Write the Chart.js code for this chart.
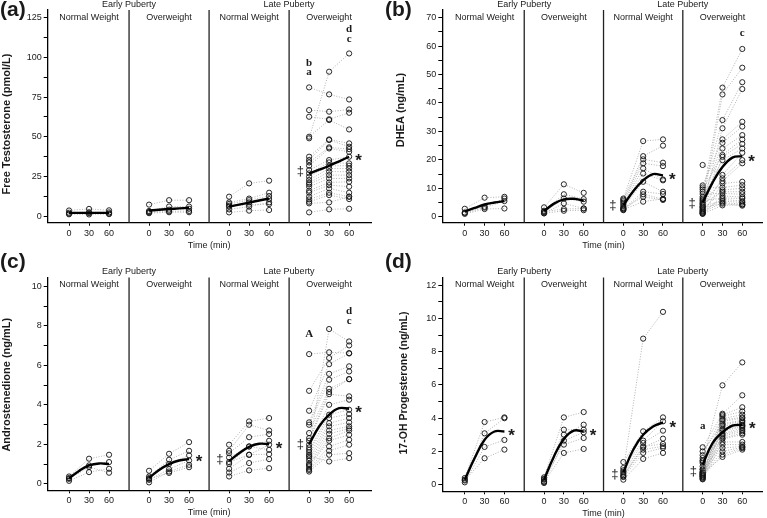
<!DOCTYPE html>
<html>
<head>
<meta charset="utf-8">
<script src="https://cdn.jsdelivr.net/npm/chart.js@4.4.0/dist/chart.umd.min.js"></script>
<style>
  body { margin: 0; background: #fff; }
  #wrap { position: relative; width: 767px; height: 518px; overflow: hidden; background: #fff; }
  canvas { position: absolute; }
</style>
</head>
<body>
<div id="wrap">
  <canvas id="pa" width="383" height="255" style="left:0;top:0"></canvas>
  <canvas id="pb" width="384" height="255" style="left:383px;top:0"></canvas>
  <canvas id="pc" width="383" height="268" style="left:0;top:250px"></canvas>
  <canvas id="pd" width="384" height="268" style="left:383px;top:250px"></canvas>
</div>
<script>
// shared layout of every panel: 4 sub-panels, sampled at 0/30/60 min
const OFF = 120;
const times = [0, 30, 60];
const fitTimes = [0, 15, 30, 45, 60];
const xTickLabels = ['0', '30', '60'];
const dividers = [90, 210, 330];
const groupNames = ['Normal Weight', 'Overweight', 'Normal Weight', 'Overweight'];
const stageNames = ['Early Puberty', 'Late Puberty'];
const stageAt = [90, 330];

// (a) Free testosterone, pmol/L  — one row per subject: [0, 30, 60 min]
const a_epnw = [[3.5, 4.5, 3.6], [2.1, 2.4, 2.3], [1.1, 1.0, 1.2], [1.5, 1.8, 1.6]];
const a_epow = [[7.2, 10, 10], [3.2, 6, 6], [2.6, 4, 4.6], [2.2, 3, 3.2], [1.8, 2.4, 2.4]];
const a_lpnw = [[12.2, 20.6, 22.3], [8.6, 11, 14.7], [7.6, 10, 12.6], [5.9, 8.6, 10.7], [4.2, 5.9, 8.6], [2.3, 3.4, 3.8], [6.5, 7.2, 7.5]];
const a_lpow = [[81.1, 76.7, 73.5], [66.8, 65.8, 67.2], [62.6, 61, 65.1], [49, 91, 102.5], [50, 60.5, 54.6],
  [37.4, 48.3, 45.8], [35.3, 47.9, 43.7], [33.8, 43.3, 42.2], [31.7, 42.6, 40.5], [29, 35.3, 37.4],
  [26.9, 33.8, 33.2], [24.8, 31.7, 31.7], [22.7, 30, 30], [21, 28, 28], [20, 25.8, 25.8], [18.5, 23.7, 23.7],
  [16, 21.2, 21.6], [14.7, 19.5, 18.5], [12.2, 17.4, 14.7], [10.5, 14.7, 12.2], [9, 13.2, 10.7], [8, 8.6, 12.2], [2.3, 4.2, 4.6]];
const a_fit = [[2, 2, 2, 2, 2], [3.5, 4, 4.4, 4.8, 5.2], [6, 7.2, 8.5, 9.8, 11], [26.8, 29.2, 31.7, 34.5, 37.4]];
const a_yTicks = [0, 25, 50, 75, 100, 125];

// (b) DHEA, ng/mL
const b_epnw = [[2.8, 6.7, 7.0], [1.5, 3.5, 6.4], [1.0, 2.7, 2.9], [1.3, 3.2, 5.5]];
const b_epow = [[3.3, 11.4, 8.4], [2.1, 7.9, 6.2], [1.6, 6.4, 5.3], [1.2, 4.7, 2.9], [1.8, 2.7, 2.9], [1.2, 2.1, 2.3]];
const b_lpnw = [[6.4, 26.6, 27.2], [6.0, 21.3, 25], [5.5, 20.2, 19], [5.0, 18.8, 17.8], [4.4, 17, 13.1], [3.8, 15.2, 12.8],
  [3.2, 12.3, 8.8], [2.7, 8.8, 8.0], [2.3, 7.9, 6.2], [3.0, 7.0, 5.9], [2.5, 5.3, 6.3]];
const b_lpow = [[7.0, 45.4, 59], [4.3, 43.0, 52.4], [8.8, 34.0, 47.3], [3.5, 31.1, 44.9], [11.0, 27.2, 33.4],
  [5.9, 26.0, 31.7], [2.6, 24.0, 28.7], [9.6, 21.7, 27.2], [1.8, 21.1, 25.6], [6.4, 19.9, 24.0], [18.2, 14.7, 22.5],
  [3.0, 13.5, 19.9], [5.0, 12.5, 18.8], [1.3, 11.7, 12.3], [10.3, 10.3, 11.1], [2.3, 9.4, 10.0], [4.6, 8.8, 8.8],
  [8.0, 8.2, 7.9], [1.1, 7.3, 6.9], [5.5, 6.6, 6.4], [2.0, 6.1, 5.5], [3.8, 5.5, 5.0], [1.5, 5.0, 4.4], [3.3, 4.6, 3.9], [1.0, 4.0, 4.2]];
const b_fit = [[1.8, 3.1, 4.3, 5.0, 5.5], [2.0, 4.6, 6.1, 6.3, 5.6], [4.0, 9.0, 12.8, 15.0, 14.5], [5.0, 12.0, 17.5, 20.8, 21.3]];
const b_yTicks = [0, 10, 20, 30, 40, 50, 60, 70];

// (c) Androstenedione, ng/mL
const c_epnw = [[0.37, 1.27, 1.47], [0.29, 0.93, 1.1], [0.15, 0.59, 0.76], [0.25, 0.85, 0.56]];
const c_epow = [[0.66, 1.52, 2.11], [0.37, 1.22, 1.67], [0.29, 1.01, 1.44], [0.2, 0.74, 1.18], [0.07, 0.62, 0.96], [0.25, 0.55, 0.84]];
const c_lpnw = [[1.98, 3.16, 3.33], [1.67, 2.99, 2.7], [1.55, 2.36, 2.52], [1.33, 1.89, 2.18], [1.1, 1.47, 1.98],
  [1.01, 1.89, 1.72], [0.76, 1.47, 1.5], [0.57, 1.05, 1.25], [0.37, 0.68, 0.79]];
const c_lpow = [[6.57, 6.66, 6.62], [1.84, 7.84, 7.21], [4.71, 6.37, 7.01], [3.7, 6.06, 6.6], [3.11, 5.57, 5.95],
  [2.99, 5.27, 5.69], [2.57, 4.81, 5.3], [2.31, 4.65, 5.3], [2.18, 4.54, 4.43], [1.98, 4.0, 4.26], [1.72, 3.5, 3.75],
  [1.6, 3.33, 3.53], [1.47, 3.07, 3.33], [1.3, 2.91, 3.11], [1.17, 2.7, 2.91], [1.01, 2.53, 2.8], [0.95, 2.31, 2.7],
  [0.88, 2.18, 2.48], [0.76, 1.89, 2.23], [0.7, 1.67, 1.98], [0.62, 1.47, 1.55], [1.4, 1.13, 1.3]];
const c_fit = [[0.28, 0.65, 0.93, 1.03, 1.0], [0.3, 0.7, 1.0, 1.18, 1.25], [1.15, 1.55, 1.87, 2.03, 2.0], [2.0, 2.9, 3.5, 3.83, 3.8]];
const c_yTicks = [0, 2, 4, 6, 8, 10];

// (d) 17-OH progesterone, ng/mL
const d_epnw = [[0.4, 3.77, 4.05], [0.3, 3.09, 4.0], [0.14, 2.27, 2.69], [0.25, 1.59, 2.11]];
const d_epow = [[0.44, 4.05, 4.37], [0.3, 3.01, 3.61], [0.2, 3.31, 3.31], [0.1, 2.65, 3.15], [0.35, 2.41, 2.81], [0.15, 1.91, 2.15]];
const d_lpnw = [[0.86, 8.79, 10.4], [1.36, 3.21, 4.05], [1.0, 2.65, 3.81], [0.76, 2.51, 3.25], [0.66, 2.25, 2.77],
  [0.56, 2.11, 2.31], [0.46, 1.91, 2.21], [0.3, 1.55, 1.91], [0.5, 2.3, 2.45]];
const d_lpow = [[1.4, 5.98, 7.36], [2.25, 4.27, 5.38], [0.6, 4.2, 4.66], [1.77, 4.11, 4.41], [0.45, 3.97, 4.21],
  [1.1, 3.9, 4.05], [0.7, 3.81, 4.0], [2.0, 3.67, 3.87], [0.35, 3.6, 3.8], [0.9, 3.51, 3.71], [1.6, 3.37, 3.6],
  [0.55, 3.3, 3.55], [0.8, 3.21, 3.5], [1.3, 3.07, 3.41], [0.4, 3.0, 3.3], [0.65, 2.91, 3.21], [1.46, 2.8, 3.1],
  [0.5, 2.75, 3.01], [0.32, 2.57, 2.57], [0.94, 2.41, 2.41], [0.75, 2.21, 2.3], [0.6, 2.0, 2.25], [0.5, 1.81, 2.2], [0.7, 1.67, 2.11]];
const d_fit = [[0.3, 1.6, 2.7, 3.2, 3.2], [0.3, 1.7, 2.75, 3.25, 3.2], [0.75, 2.1, 3.0, 3.5, 3.75], [1.2, 2.5, 3.15, 3.55, 3.6]];
const d_yTicks = [0, 2, 4, 6, 8, 10, 12];

// significance marks: sub-panel, time, value, symbol
const a_marks = [[3, 0, 96.6, 'b'], [3, 0, 91, 'a'], [3, 60, 117.6, 'd'], [3, 60, 111.3, 'c'], [3, -13, 28, '‡'], [3, 74, 37.8, '*']];
const b_marks = [[2, -16, 4.1, '‡'], [2, 74, 14.4, '*'], [3, -16, 4.5, '‡'], [3, 74, 20.9, '*'], [3, 60, 64.7, 'c']];
const c_marks = [[1, 75, 1.33, '*'], [2, -14, 1.22, '‡'], [2, 75, 2.0, '*'], [3, -13, 2.0, '‡'], [3, 74, 3.83, '*'],
  [3, 0, 7.58, 'A'], [3, 60, 8.73, 'd'], [3, 60, 8.23, 'c']];
const d_marks = [[0, 71, 3.2, '*'], [1, 74, 3.2, '*'], [2, -13, 0.64, '‡'], [2, 75, 3.7, '*'], [3, -14, 0.8, '‡'], [3, 75, 3.65, '*'], [3, 0, 3.5, 'a']];

const SANS = '"Liberation Sans", Arial, sans-serif';
const SERIF = '"Liberation Serif", "Times New Roman", serif';
const INK = '#1a1a1a';

const panelDecor = {
  id: 'panelDecor',
  beforeDatasetsDraw(chart) {
    const { ctx, chartArea: a, scales: { x } } = chart;
    ctx.save();
    ctx.strokeStyle = '#222';
    ctx.lineWidth = 1.3;
    dividers.forEach(d => {
      const px = x.getPixelForValue(d);
      ctx.beginPath();
      ctx.moveTo(px, a.top);
      ctx.lineTo(px, a.bottom);
      ctx.stroke();
    });
    ctx.restore();
  },
  afterDraw(chart) {
    const o = chart.options.plugins.panelDecor;
    const { ctx, chartArea: a, scales: { x, y } } = chart;
    ctx.save();
    ctx.fillStyle = INK;
    ctx.textAlign = 'center';
    ctx.textBaseline = 'middle';
    ctx.font = '9px ' + SANS;
    stageNames.forEach((s, i) => ctx.fillText(s, x.getPixelForValue(stageAt[i]), a.top - 5.5));
    groupNames.forEach((g, k) => ctx.fillText(g, x.getPixelForValue(k * OFF + 30), a.top + 7.5));
    ctx.fillText('Time (min)', x.getPixelForValue(210), a.bottom + 22.5);

    o.marks.forEach(([k, t, v, s]) => {
      const px = x.getPixelForValue(k * OFF + t);
      const py = y.getPixelForValue(v);
      if (s === '*') {
        ctx.font = 'bold 17px ' + SANS;
        ctx.textBaseline = 'alphabetic';
        ctx.fillText(s, px, py + 0.57 * 17);
      } else if (s === '‡') {
        ctx.font = '13px ' + SANS;
        ctx.textBaseline = 'alphabetic';
        ctx.fillText(s, px, py + 0.27 * 13);
      } else {
        ctx.font = 'bold 11px ' + SERIF;
        ctx.textBaseline = 'middle';
        ctx.fillText(s, px, py);
      }
    });

    // y title
    ctx.save();
    ctx.translate(o.titleX, o.titleY);
    ctx.rotate(-Math.PI / 2);
    ctx.font = 'bold ' + o.titleSize + 'px ' + SANS;
    ctx.textBaseline = 'middle';
    ctx.fillText(o.title, 0, 0);
    ctx.restore();

    // panel letter
    ctx.textAlign = 'left';
    ctx.textBaseline = 'alphabetic';
    ctx.font = 'bold 21px ' + SANS;
    ctx.fillText(o.letter, o.letterX, o.letterY);
    ctx.restore();
  }
};

function makePanel(id, p) {
  const datasets = [];
  p.groups.forEach((subjects, k) => {
    datasets.push({
      data: fitTimes.map((t, i) => ({ x: t + k * OFF, y: p.fit[k][i] })),
      borderColor: '#000', borderWidth: 2.4, pointRadius: 0,
      tension: 0.4, order: 0
    });
    subjects.forEach(s => datasets.push({
      data: times.map((t, i) => ({ x: t + k * OFF, y: s[i] })),
      borderColor: '#a0a0a0', borderWidth: 0.8, borderDash: [1, 1.6],
      pointRadius: 2.6, pointBorderWidth: 0.9, pointBorderColor: '#111',
      pointBackgroundColor: 'rgba(0,0,0,0)', order: 1
    }));
  });

  const xTickVals = [];
  p.groups.forEach((_, k) => times.forEach(t => xTickVals.push(t + k * OFF)));
  const yAll = [];
  p.yTicks.forEach((v, i) => {
    yAll.push(v);
    if (i < p.yTicks.length - 1) yAll.push((v + p.yTicks[i + 1]) / 2);
  });

  new Chart(document.getElementById(id), {
    type: 'line',
    data: { datasets },
    options: {
      responsive: false,
      animation: false,
      layout: { padding: p.padding },
      plugins: { legend: { display: false }, tooltip: { enabled: false }, panelDecor: p.decor },
      scales: {
        x: {
          type: 'linear', min: p.xMin, max: p.xMax,
          afterBuildTicks: s => { s.ticks = xTickVals.map(v => ({ value: v })); },
          afterFit: s => { s.height = 22; },
          ticks: { autoSkip: false, maxRotation: 0, padding: 2, color: INK, font: { family: SANS, size: 9 },
            callback: (v, i) => xTickLabels[i % 3] },
          grid: { drawOnChartArea: false, tickLength: 3, color: '#000' },
          border: { color: '#000', width: 1.3 }
        },
        y: {
          min: p.yMin, max: p.yMax,
          afterBuildTicks: s => { s.ticks = yAll.map(v => ({ value: v })); },
          afterFit: s => { s.width = p.yWidth; },
          ticks: { autoSkip: false, padding: 2, color: INK, font: { family: SANS, size: 9 },
            callback: v => p.yTicks.includes(v) ? String(v) : '' },
          grid: { drawOnChartArea: false, tickLength: 4, color: '#000' },
          border: { color: '#000', width: 1.3 }
        }
      }
    },
    plugins: [panelDecor]
  });
}

makePanel('pa', {
  groups: [a_epnw, a_epow, a_lpnw, a_lpow], fit: a_fit, yTicks: a_yTicks,
  yMin: -4.2, yMax: 129.9, xMin: -32, xMax: 452.8, yWidth: 47.7,
  padding: { left: 0, top: 10, right: 12, bottom: 10.3 },
  decor: { marks: a_marks, title: 'Free Testosterone (pmol/L)', titleSize: 11, titleX: 7, titleY: 124, letter: '(a)', letterX: 0, letterY: 16 }
});
makePanel('pb', {
  groups: [b_epnw, b_epow, b_lpnw, b_lpow], fit: b_fit, yTicks: b_yTicks,
  yMin: -2.1, yMax: 72.7, xMin: -34, xMax: 450, yWidth: 59.3,
  padding: { left: 0, top: 10, right: 2, bottom: 10.3 },
  decor: { marks: b_marks, title: 'DHEA (ng/mL)', titleSize: 11, titleX: 18, titleY: 110, letter: '(b)', letterX: 2, letterY: 16 }
});
makePanel('pc', {
  groups: [c_epnw, c_epow, c_lpnw, c_lpow], fit: c_fit, yTicks: c_yTicks,
  yMin: -0.33, yMax: 10.45, xMin: -32, xMax: 452.8, yWidth: 47.7,
  padding: { left: 0, top: 27.5, right: 12, bottom: 5.7 },
  decor: { marks: c_marks, title: 'Androstenedione (ng/mL)', titleSize: 11, titleX: 7.3, titleY: 134.7, letter: '(c)', letterX: 0, letterY: 18 }
});
makePanel('pd', {
  groups: [d_epnw, d_epow, d_lpnw, d_lpow], fit: d_fit, yTicks: d_yTicks,
  yMin: -0.4, yMax: 12.47, xMin: -34, xMax: 450, yWidth: 59.3,
  padding: { left: 0, top: 27.5, right: 2, bottom: 4.7 },
  decor: { marks: d_marks, title: '17-OH Progesterone (ng/mL)', titleSize: 10.5, titleX: 20.7, titleY: 133, letter: '(d)', letterX: 2, letterY: 18 }
});
</script>
</body>
</html>
